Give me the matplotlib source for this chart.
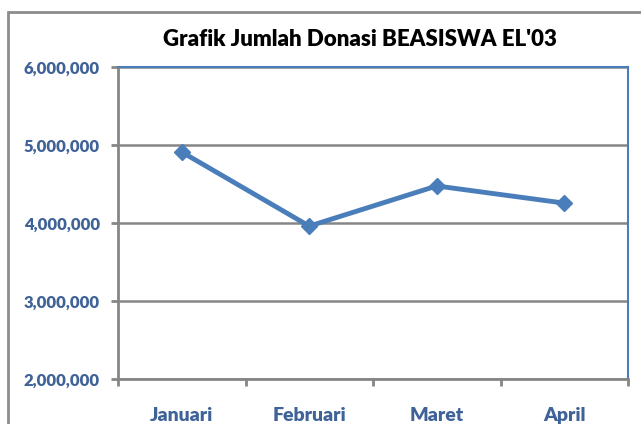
import matplotlib
matplotlib.use("Agg")
import matplotlib.pyplot as plt
import matplotlib.patches as patches
from matplotlib.ticker import FuncFormatter

# data
bulan = ["Januari", "Februari", "Maret", "April"]
donasi = [4910000, 3960000, 4475000, 4255000]
y_ticks = [2000000, 3000000, 4000000, 5000000, 6000000]

plt.rcParams['font.family'] = ['Lato', 'DejaVu Sans']

label_color = '#3F6297'
grid_color = '#868686'
line_color = '#4A7EBB'

fig = plt.figure(figsize=(6.41, 4.24), dpi=100)
ax = fig.add_axes([118 / 641, 1 - 379 / 424, 510 / 641, 312 / 424])

# outer chart border
fig.patches.append(patches.Rectangle((8 / 641, -0.2), 1.2, 1.2 - 12 / 424,
                                     transform=fig.transFigure, fill=False,
                                     edgecolor='#8C8C8C', lw=2))

x = range(len(bulan))
ax.plot(x, donasi, color=line_color, lw=3.5, marker='D', markersize=8, zorder=3)

ax.set_xlim(-0.5, len(bulan) - 0.5)
ax.set_ylim(2000000, 6000000)
ax.set_yticks(y_ticks)
ax.yaxis.set_major_formatter(FuncFormatter(lambda v, p: f"{int(v):,}"))
ax.set_xticks(list(x))
ax.set_xticklabels(bulan)
ax.set_xticks([i - 0.5 for i in range(len(bulan) + 1)], minor=True)

ax.grid(axis='y', color=grid_color, lw=1.8)
ax.set_axisbelow(True)

for s in ['left', 'bottom']:
    ax.spines[s].set_color(grid_color)
    ax.spines[s].set_linewidth(2)
for s in ['top', 'right']:
    ax.spines[s].set_color(line_color)
    ax.spines[s].set_linewidth(1.5)

ax.tick_params(axis='y', colors=grid_color, labelcolor=label_color, length=5, width=2, pad=8)
ax.tick_params(axis='x', which='major', length=0, pad=20, labelcolor=label_color)
ax.tick_params(axis='x', which='minor', colors=grid_color, length=5, width=2)
for lab in ax.get_yticklabels():
    lab.set_fontweight('heavy')
    lab.set_fontsize(12)
for lab in ax.get_xticklabels():
    lab.set_fontweight('heavy')
    lab.set_fontsize(14)

fig.text(360 / 641, 1 - 40 / 424, "Grafik Jumlah Donasi BEASISWA EL'03",
         ha='center', va='center', fontsize=16, fontweight='heavy', color='black')

fig.savefig("out.png", dpi=100)
